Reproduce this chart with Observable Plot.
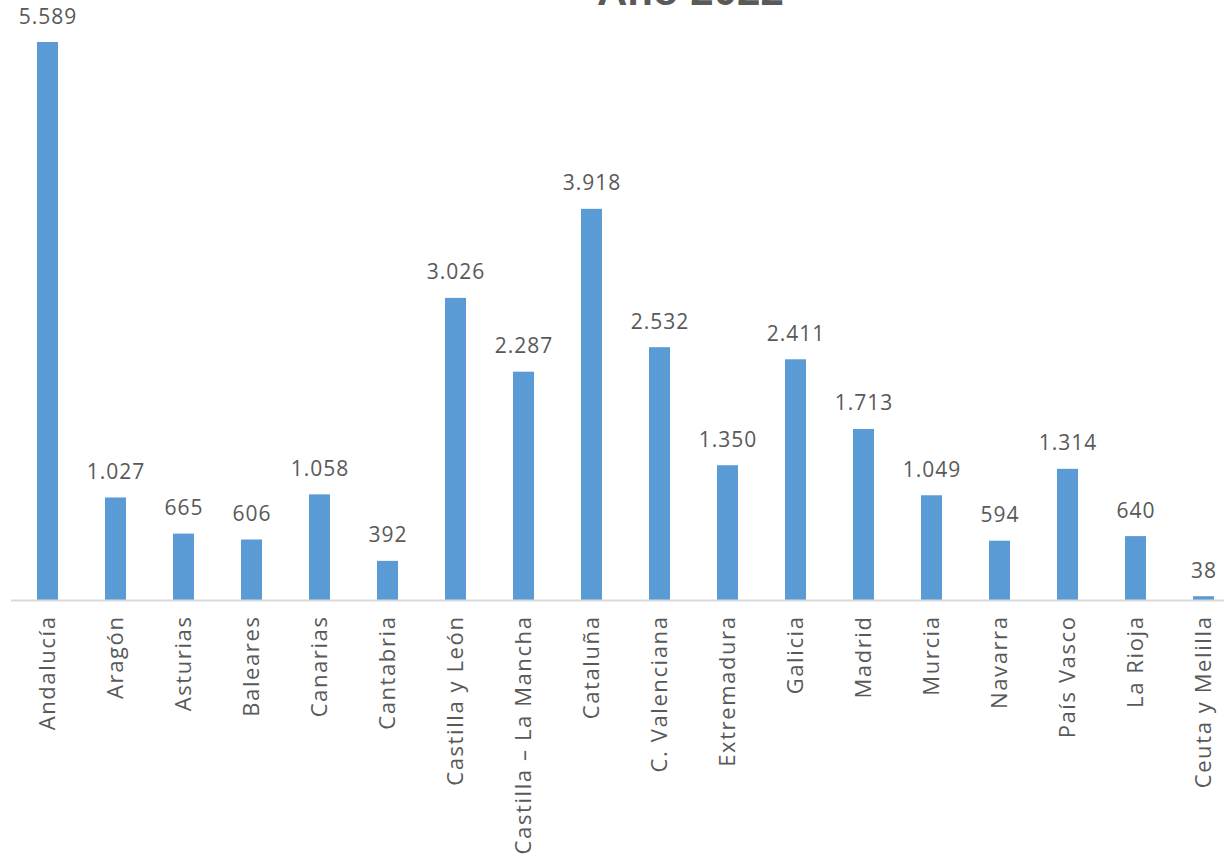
<!DOCTYPE html>
<html>
<head>
<meta charset="utf-8">
<script src="https://cdn.jsdelivr.net/npm/d3@7"></script>
<script src="https://cdn.jsdelivr.net/npm/@observablehq/plot@0.6"></script>
<style>
  html, body { margin: 0; padding: 0; background: #fff; overflow: hidden; }
  #wrap { position: relative; width: 1224px; height: 855px; overflow: hidden; }
  #title { position: absolute; left: 597px; top: -30px; margin: 0; font: bold 42px "Liberation Sans", Arial, sans-serif; line-height: 1; color: #595959; white-space: nowrap; }
  #chart svg { display: block; }
  #chart .vlabels text { letter-spacing: 1px; }
  #chart .xlabels text { letter-spacing: 1.6px; }
</style>
</head>
<body>
<div id="wrap">
  <div id="chart"></div>
  <div id="title">Año 2022</div>
</div>
<script>
const regions = ["Andalucía", "Aragón", "Asturias", "Baleares", "Canarias", "Cantabria", "Castilla y León", "Castilla – La Mancha", "Cataluña", "C. Valenciana", "Extremadura", "Galicia", "Madrid", "Murcia", "Navarra", "País Vasco", "La Rioja", "Ceuta y Melilla"];
const values = [5589, 1027, 665, 606, 1058, 392, 3026, 2287, 3918, 2532, 1350, 2411, 1713, 1049, 594, 1314, 640, 38];

const data = regions.map((r, i) => ({region: r, value: values[i]}));
const fmt = v => v.toLocaleString("de-DE");

const chart = Plot.plot({
  width: 1224,
  height: 855,
  marginTop: 0,
  marginLeft: 11,
  marginRight: 0,
  marginBottom: 255,
  style: {fontFamily: "'Open Sans', sans-serif", fontSize: "21px", color: "#595959", background: "#fff", overflow: "visible"},
  x: {domain: regions, range: [11, 1241], paddingInner: 0.69, paddingOuter: 0.345, label: null},
  y: {domain: [0, 5589], range: [600, 42], axis: null},
  marks: [
    Plot.barY(data, {x: "region", y: "value", fill: "#5B9BD5"}),
    Plot.ruleY([0], {stroke: "#D9D9D9", strokeWidth: 2}),
    Plot.text(data, {x: "region", y: "value", text: d => fmt(d.value), lineAnchor: "bottom", dy: -19, fill: "#595959", fontSize: 21, className: "vlabels"}),
    Plot.axisX({tickRotate: -90, tickSize: 0, tickPadding: 15, fontSize: 22, fill: "#595959", label: null, className: "xlabels"})
  ]
});
document.getElementById("chart").appendChild(chart);
</script>
</body>
</html>
